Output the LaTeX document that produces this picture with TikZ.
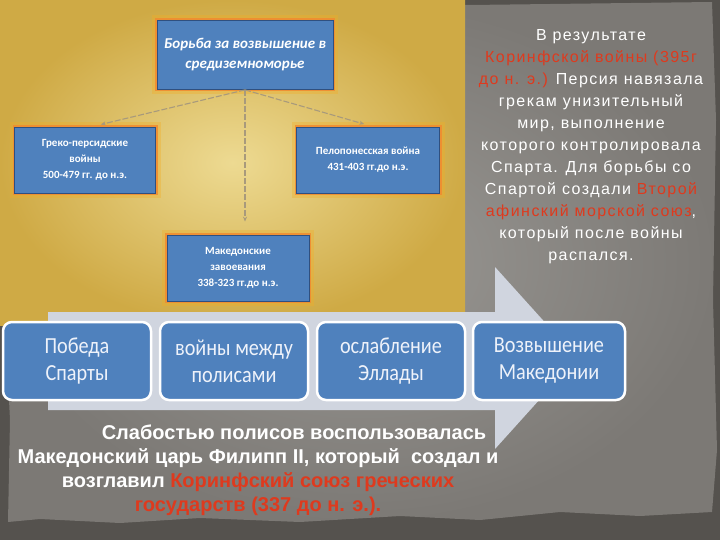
\documentclass[tikz,border=0pt]{standalone}
\usepackage{fontspec}
\setmainfont{Liberation Sans}
\newfontfamily\calfont{Carlito}
\newfontfamily\lowfont[FakeStretch=0.88]{Carlito}
\newfontfamily\rtfont[LetterSpace=9]{Liberation Sans}
\usetikzlibrary{arrows.meta}
\definecolor{boxblue}{HTML}{4F81BD}
\definecolor{boxedge}{HTML}{2F5080}
\definecolor{glowc}{HTML}{F08A30}
\definecolor{paperin}{HTML}{9A9894}
\definecolor{paperout}{HTML}{7C7975}
\definecolor{paperdark}{HTML}{55524E}
\definecolor{goldin}{HTML}{EDDA92}
\definecolor{goldout}{HTML}{CFAA45}
\definecolor{arrowc}{HTML}{D0D5DF}
\definecolor{redt}{HTML}{DE3A1E}
\definecolor{connc}{HTML}{A89A7C}
\definecolor{lowtext}{HTML}{EEF2FA}
\tikzset{
  topbox/.style={fill=boxblue, draw=boxedge, line width=0.8pt, text=white, align=center,
    font=\calfont\bfseries\fontsize{11}{16}\selectfont, inner sep=0pt},
  glowbox/.style={draw=glowc, line width=4pt, opacity=0.85},
  glowsoft/.style={draw=glowc!70!yellow, line width=10pt, opacity=0.35},
  lowbox/.style={fill=boxblue, draw=white, line width=2.5pt, rounded corners=9pt, text=lowtext,
    align=center, font=\lowfont\fontsize{23}{27}\selectfont, inner sep=0pt,
    minimum height=78pt},
  conn/.style={draw=connc, line width=1.1pt, dashed, dash pattern=on 6pt off 2pt,
    -{Stealth[length=5pt,width=4pt]}},
}
\begin{document}
\begin{tikzpicture}[x=1pt,y=-1pt]
\useasboundingbox (0,0) rectangle (720,540);
% paper background
\fill[paperdark] (0,0) rectangle (720,540);
\shade[inner color=paperin, outer color=paperout]
  (4,6) -- (200,3) -- (470,5) -- (712,2) -- (716,120) -- (713,300) -- (717,450) -- (712,512)
  -- (640,516) -- (560,512) -- (480,520) -- (400,516) -- (300,522) -- (200,518) -- (120,523)
  -- (40,519) -- (8,522) -- (10,420) -- (4,300) -- cycle;
% gold panel
\shade[inner color=goldin, outer color=goldout] (0,0) rectangle (465,325);
% big arrow
\fill[arrowc] (48,312) -- (495,312) -- (495,267) -- (577,358) -- (495,449)
  -- (495,410) -- (48,410) -- cycle;
% top diagram glows
\foreach \cx/\cy/\w/\h in {245/55/176/69, 85/160/141/66, 368/160/143/66, 238/268/142/66}{
  \draw[glowsoft] (\cx-\w/2,\cy-\h/2) rectangle (\cx+\w/2,\cy+\h/2);
  \draw[glowbox] (\cx-\w/2,\cy-\h/2) rectangle (\cx+\w/2,\cy+\h/2);
}
\node[topbox, minimum width=176pt, minimum height=69pt,
  font=\calfont\bfseries\itshape\fontsize{15}{20}\selectfont] (top) at (245,55)
  {Борьба за возвышение в\\средиземноморье};
\node[topbox, minimum width=141pt, minimum height=66pt] (gp) at (85,160)
  {Греко-персидские\\войны\\500-479 гг. до н.э.};
\node[topbox, minimum width=143pt, minimum height=66pt] (pel) at (368,160)
  {Пелопонесская война\\431-403 гг.до н.э.};
\node[topbox, minimum width=142pt, minimum height=66pt] (mak) at (238,268)
  {Македонские\\завоевания\\338-323 гг.до н.э.};
\draw[conn, shorten >=9pt] (top.south) -- ([xshift=7pt]gp.north);
\draw[conn, shorten >=9pt] (top.south) -- ([xshift=5pt]pel.north);
\draw[conn, shorten >=13pt] (top.south) -- (top.south |- mak.north);
% lower boxes
\node[lowbox, minimum width=148pt] (b1) at (77,361) {Победа\\Спарты};
\node[lowbox, minimum width=148pt] (b2) at (234,361) {войны между\\полисами};
\node[lowbox, minimum width=148pt] (b3) at (391,361) {ослабление\\Эллады};
\node[lowbox, minimum width=152pt] (b4) at (549,361) {Возвышение\\Македонии};
% right text
\node[anchor=north, align=center, text=white, font=\rtfont\fontsize{16}{22}\selectfont, inner sep=0pt]
  (rt) at (591,29)
  {В результате\\
   \textcolor{redt}{Коринфской войны (395г}\\
   \textcolor{redt}{до н. э.)} Персия навязала\\
   грекам унизительный\\
   мир, выполнение\\
   которого контролировала\\
   Спарта. Для борьбы со\\
   Спартой создали \textcolor{redt}{Второй}\\
   \textcolor{redt}{афинский морской союз},\\
   который после войны\\
   распался.};
% bottom text
\node[anchor=north, align=center, text=white, font=\bfseries\fontsize{20}{24}\selectfont, inner sep=0pt]
  (bt) at (258,425)
  {\hspace*{72pt}Слабостью полисов воспользовалась\\
   Македонский царь Филипп II, который\ \ создал и\\
   возглавил \textcolor{redt}{Коринфский союз греческих}\\
   \textcolor{redt}{государств (337 до н. э.).}};
\end{tikzpicture}
\end{document}
